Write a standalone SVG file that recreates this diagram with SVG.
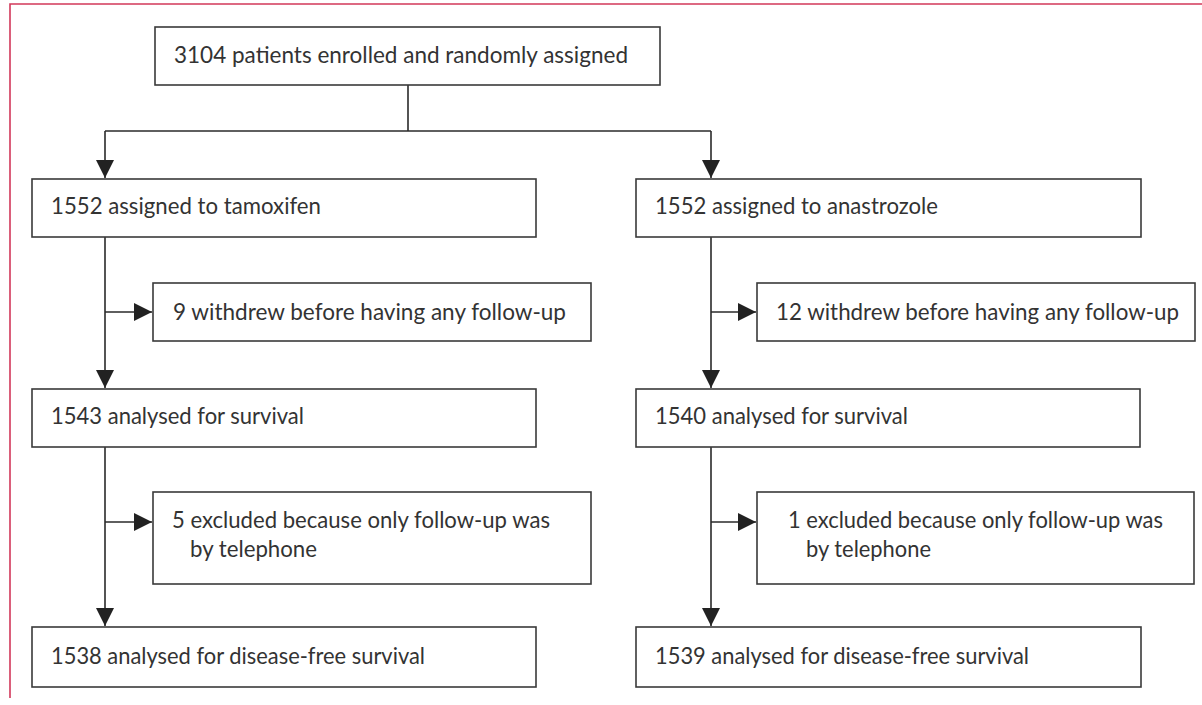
<svg xmlns="http://www.w3.org/2000/svg" width="1202" height="705" viewBox="0 0 1202 705">
<style>
.box{fill:#fff;stroke:#3a3a3a;stroke-width:1.6}
.t{font-family:Lato,"Liberation Sans",sans-serif;font-size:23px;fill:#333}
.ln{fill:none;stroke:#2a2a2a;stroke-width:1.6}
.frame{fill:none;stroke:#d2385a;stroke-width:1.6}
</style>
<defs>
<marker id="ah" markerUnits="userSpaceOnUse" markerWidth="20" markerHeight="20" viewBox="0 0 20 20" refX="18" refY="10" orient="auto">
<path d="M0,1 L18,10 L0,19 Z" fill="#222"/>
</marker>
</defs>
<path class="frame" d="M1202,4 H10 V698"/>
<g id="connectors">
<path class="ln" d="M408,85 V131"/>
<path class="ln" d="M105,131 H711"/>
<path class="ln" d="M105,131 V178" marker-end="url(#ah)"/>
<path class="ln" d="M711,131 V178" marker-end="url(#ah)"/>
<path class="ln" d="M105,237 V388" marker-end="url(#ah)"/>
<path class="ln" d="M105,312 H152" marker-end="url(#ah)"/>
<path class="ln" d="M711,237 V388" marker-end="url(#ah)"/>
<path class="ln" d="M711,312 H756" marker-end="url(#ah)"/>
<path class="ln" d="M105,447 V626" marker-end="url(#ah)"/>
<path class="ln" d="M105,522 H152" marker-end="url(#ah)"/>
<path class="ln" d="M711,447 V626" marker-end="url(#ah)"/>
<path class="ln" d="M711,522 H756" marker-end="url(#ah)"/>
</g>
<g id="n-enrolled">
<rect class="box" x="155" y="27" width="505" height="58"/>
<text class="t" x="174" y="63" textLength="454" lengthAdjust="spacingAndGlyphs">3104 patients enrolled and randomly assigned</text>
</g>
<g id="n-tamoxifen">
<rect class="box" x="32" y="179" width="504" height="58"/>
<text class="t" x="51" y="214" textLength="270" lengthAdjust="spacingAndGlyphs">1552 assigned to tamoxifen</text>
</g>
<g id="n-anastrozole">
<rect class="box" x="636" y="179" width="505" height="58"/>
<text class="t" x="655" y="214" textLength="283" lengthAdjust="spacingAndGlyphs">1552 assigned to anastrozole</text>
</g>
<g id="n-withdrew-tam">
<rect class="box" x="153" y="283" width="438" height="58"/>
<text class="t" x="173" y="320" textLength="393" lengthAdjust="spacingAndGlyphs">9 withdrew before having any follow-up</text>
</g>
<g id="n-withdrew-ana">
<rect class="box" x="757" y="283" width="438" height="58"/>
<text class="t" x="776" y="320" textLength="403" lengthAdjust="spacingAndGlyphs">12 withdrew before having any follow-up</text>
</g>
<g id="n-survival-tam">
<rect class="box" x="32" y="389" width="504" height="58"/>
<text class="t" x="51" y="424" textLength="253" lengthAdjust="spacingAndGlyphs">1543 analysed for survival</text>
</g>
<g id="n-survival-ana">
<rect class="box" x="636" y="389" width="504" height="58"/>
<text class="t" x="655" y="424" textLength="253" lengthAdjust="spacingAndGlyphs">1540 analysed for survival</text>
</g>
<g id="n-excluded-tam">
<rect class="box" x="153" y="492" width="438" height="92"/>
<text class="t" x="172" y="528" textLength="378" lengthAdjust="spacingAndGlyphs">5 excluded because only follow-up was</text>
<text class="t" x="190" y="557" textLength="127" lengthAdjust="spacingAndGlyphs">by telephone</text>
</g>
<g id="n-excluded-ana">
<rect class="box" x="757" y="492" width="437" height="92"/>
<text class="t" x="788" y="528" textLength="375" lengthAdjust="spacingAndGlyphs">1 excluded because only follow-up was</text>
<text class="t" x="806" y="557" textLength="125" lengthAdjust="spacingAndGlyphs">by telephone</text>
</g>
<g id="n-dfs-tam">
<rect class="box" x="32" y="627" width="504" height="60"/>
<text class="t" x="51" y="664" textLength="374" lengthAdjust="spacingAndGlyphs">1538 analysed for disease-free survival</text>
</g>
<g id="n-dfs-ana">
<rect class="box" x="636" y="627" width="505" height="60"/>
<text class="t" x="655" y="664" textLength="374" lengthAdjust="spacingAndGlyphs">1539 analysed for disease-free survival</text>
</g>
</svg>
